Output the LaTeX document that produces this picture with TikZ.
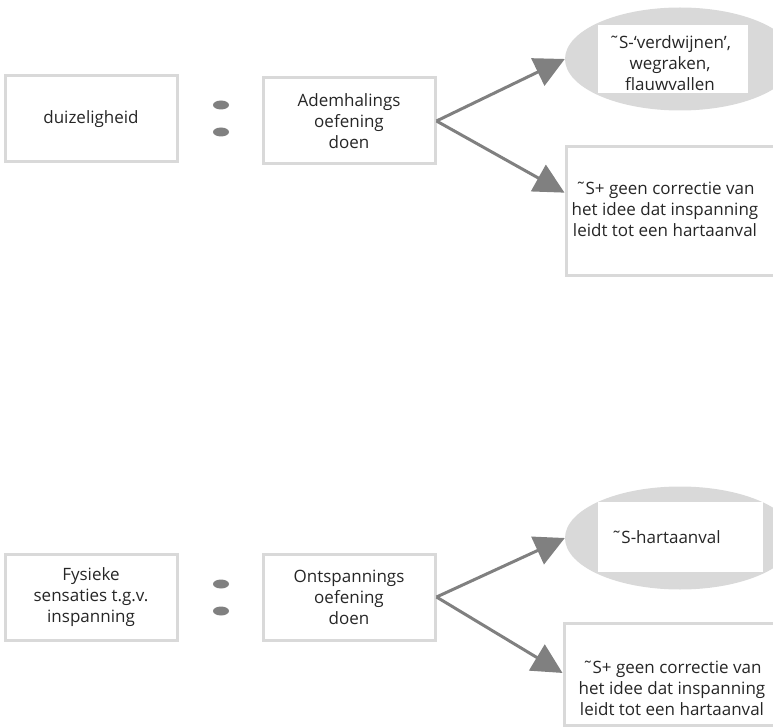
\documentclass[tikz,border=0pt]{standalone}
\usepackage{fontspec}
\setmainfont{Open Sans}
\usepackage{xcolor}
\usetikzlibrary{arrows.meta,calc,positioning,shapes.geometric}
\definecolor{boxgray}{HTML}{D9D9D9}
\definecolor{arrgray}{HTML}{808080}

\begin{document}
\begin{tikzpicture}[x=1pt,y=-1pt,
  every node/.style={font=\fontsize{17}{21}\selectfont, text=black!85},
  box/.style={draw=boxgray, line width=3pt, minimum width=172pt, minimum height=86pt, align=center},
  resbox/.style={draw=boxgray, line width=3pt, minimum width=226pt},
  blob/.style={ellipse, fill=boxgray, minimum width=230pt, minimum height=103pt},
  inrect/.style={fill=white, inner sep=0pt},
  conn/.style={arrgray, line width=3pt, -{Triangle[length=30pt,width=30pt]}}]
\clip (0,0) rectangle (773,727);

% bovenste schema
\node[box] (klacht1) at (91,119) {duizeligheid};
\node[box] (oef1) at (349,121) {Ademhalings\\oefening\\doen};
\node[blob] (ell1) at (680,59) {};
\node[inrect, minimum width=150pt, minimum height=68pt] (in1) at (673,59) {};
\node[align=center] (lab1) at (670,63) {\char"02DC S-`verdwijnen',\\wegraken,\\flauwvallen};
\node[resbox, minimum height=128pt] (res1) at (679,211) {};
\node[align=center] (rtxt1) at (665,209) {\char"02DC S+ geen correctie van\\het idee dat inspanning\\leidt tot een hartaanval};
\coordinate (t1) at ($(res1.north west)!0.36!(res1.south west)$);

% onderste schema
\node[box] (klacht2) at (91,597) {Fysieke\\sensaties t.g.v.\\inspanning};
\node[box] (oef2) at (349,597) {Ontspannings\\oefening\\doen};
\node[blob] (ell2) at (680,538) {};
\node[inrect, minimum width=165pt, minimum height=70pt] (in2) at (680,537) {};
\node (lab2) at (666,537) {\char"02DC S-hartaanval};
\node[resbox, minimum height=102pt] (res2) at (677,674) {};
\node[align=center] (rtxt2) at (672,688) {\char"02DC S+ geen correctie van\\het idee dat inspanning\\leidt tot een hartaanval};
\coordinate (t2) at ($(res2.north west)!0.49!(res2.south west)$);

\foreach \y in {105,132,584,611}
	\fill[arrgray] (221,\y) ellipse [x radius=8, y radius=4.5];

\draw[conn] (oef1.east) -- (ell1.west);
\draw[conn] (oef1.east) -- (t1);
\draw[conn] (oef2.east) -- (ell2.west);
\draw[conn] (oef2.east) -- (t2);
\end{tikzpicture}
\end{document}
